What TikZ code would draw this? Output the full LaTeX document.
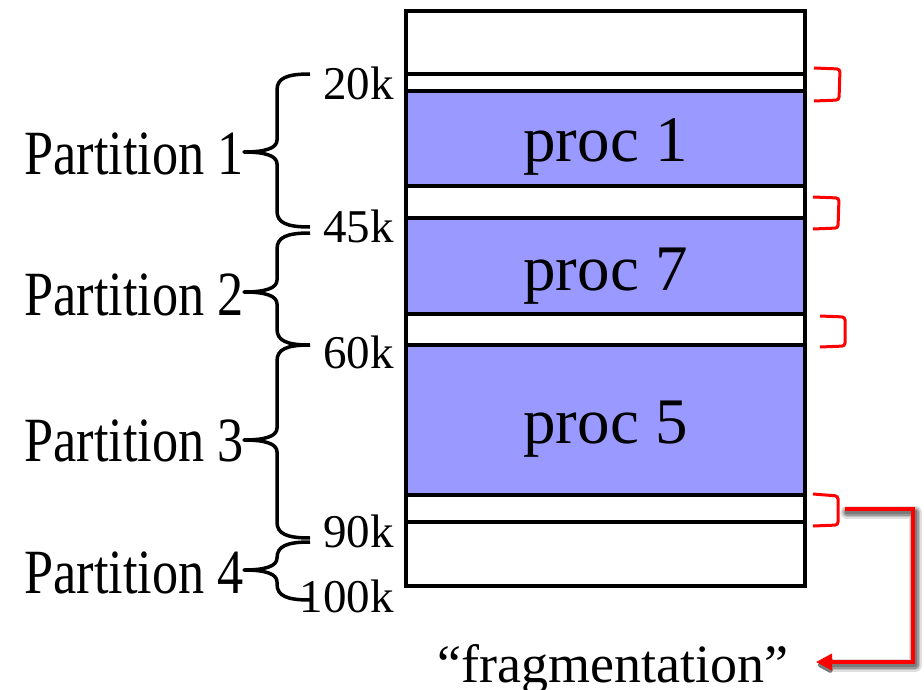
\documentclass[tikz,border=0pt]{standalone}
\usepackage{fontspec}
\setmainfont{Liberation Serif}
\usetikzlibrary{arrows.meta}

\definecolor{procfill}{RGB}{153,153,255}
\definecolor{fragred}{RGB}{255,0,0}

\tikzset{
  memframe/.style={draw=black, line width=4pt, fill=white},
  memline/.style={draw=black, line width=3.5pt},
  procbox/.style={draw=black, line width=4pt, fill=procfill},
  proclabel/.style={anchor=base, inner sep=0pt, font=\fontsize{65}{70}\selectfont},
  addrlabel/.style={anchor=base east, inner sep=0pt, font=\fontsize{47}{52}\selectfont},
  partlabel/.style={anchor=base east, inner sep=0pt, font=\fontsize{63}{68}\selectfont},
  fraglabel/.style={anchor=base, inner sep=0pt, font=\fontsize{54}{60}\selectfont},
  bracepath/.style={draw=black, line width=3.5pt, line join=round},
  gapbracket/.style={draw=fragred, line width=3pt, rounded corners=3pt},
  fragarrow/.style={draw=fragred, line width=3.5pt, -{Triangle[length=16pt,width=16pt]}},
  arrowshadow/.style={line join=round, line cap=round, -{Triangle[length=17pt,width=17pt,round]}},
}

% curly brace spanning one partition: top tip, bottom tip, middle point
\newcommand\partbrace[3]{%
  \draw[bracepath] (310,#1) .. controls (287,#1) and (277,{#1+4}) .. (277,{#1+16})
    -- (277,{#3-12}) .. controls (277,{#3-4}) and (266,#3) .. (244,#3)
    .. controls (266,#3) and (277,{#3+4}) .. (277,{#3+12})
    -- (277,{#2-16}) .. controls (277,{#2-4}) and (287,#2) .. (310,#2);
}

% shadow of the fragmentation arrow, offset down and to the right
\newcommand\arrowshade[2]{%
  \draw[arrowshadow, draw=#1, line width=#2]
    ([shift={(2,3)}]gapout) -- ([shift={(2,3)}]gapturn) -- ([shift={(2,3)}]gapdown) -- ([shift={(2,3)}]fragin);
}

\begin{document}
\begin{tikzpicture}[x=1pt, y=-1pt]
  \useasboundingbox (0,0) rectangle (924,690);

  % memory column
  \draw[memframe] (406,11) rectangle (805,586);
  \draw[memline] (406,74) -- (805,74);
  \draw[memline] (406,522) -- (805,522);
  \draw[procbox] (406,91) rectangle (805,186);
  \draw[procbox] (406,218) rectangle (805,314);
  \draw[procbox] (406,345) rectangle (805,495);

  \node[proclabel] (proc1) at (605.5,162) {proc 1};
  \node[proclabel] (proc7) at (605.5,290) {proc 7};
  \node[proclabel] (proc5) at (605.5,443) {proc 5};

  % partition boundaries
  \node[addrlabel] (a20)  at (394,100) {20k};
  \node[addrlabel] (a45)  at (394,242) {45k};
  \node[addrlabel] (a60)  at (394,368) {60k};
  \node[addrlabel] (a90)  at (394,547) {90k};
  \node[addrlabel] (a100) at (394,612) {100k};

  % braces grouping the partitions
  \partbrace{74}{227}{152}
  \partbrace{233}{345}{292}
  \partbrace{345}{538}{440}
  \partbrace{542}{600}{570}

  \node[partlabel] (part1) at (244,175) {\scalebox{0.83}[1]{Partition 1}};
  \node[partlabel] (part2) at (244,315) {\scalebox{0.83}[1]{Partition 2}};
  \node[partlabel] (part3) at (244,461) {\scalebox{0.83}[1]{Partition 3}};
  \node[partlabel] (part4) at (244,593) {\scalebox{0.83}[1]{Partition 4}};

  % holes left between processes
  \draw[gapbracket] (814,68) -- (840,69) -- (839,100) -- (814,101);
  \draw[gapbracket] (813,197) -- (839,198) -- (838,228) -- (813,229);
  \draw[gapbracket] (820,316) -- (845,317) -- (845,346) -- (820,347);
  \draw[gapbracket] (813,494) -- (838,496) -- (838,525) -- (813,526);

  \node[fraglabel] (frag) at (613,682) {“fragmentation”};
  \coordinate (gapout)  at (845,509);
  \coordinate (gapturn) at (913,509);
  \coordinate (gapdown) at (913,662);
  \coordinate (fragin)  at (816,662);

  % soft shadow, layered from light and wide to dark and narrow
  \arrowshade{black!12}{13pt}
  \arrowshade{black!25}{10pt}
  \arrowshade{black!40}{7pt}
  \arrowshade{black!52}{4pt}
  \draw[fragarrow] (gapout) -- (gapturn) -- (gapdown) -- (fragin);
\end{tikzpicture}
\end{document}
